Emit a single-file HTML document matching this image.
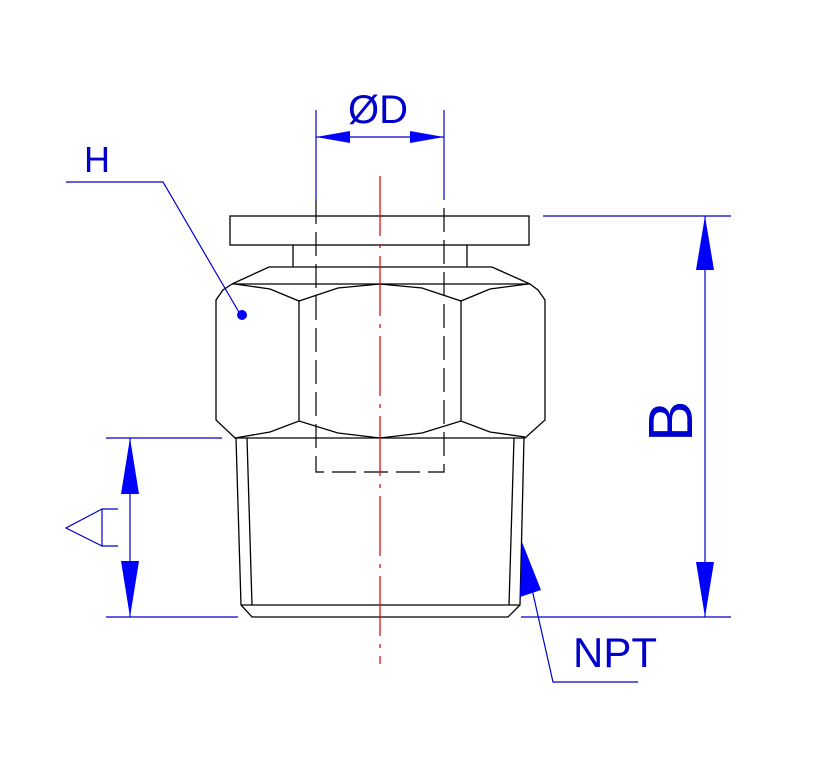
<!DOCTYPE html>
<html><head><style>html,body{margin:0;padding:0;background:#fff}svg{display:block}</style></head><body>
<svg width="837" height="763" viewBox="0 0 837 763" xmlns="http://www.w3.org/2000/svg">
<g fill="none" stroke="#000" stroke-width="1.3">
<rect x="230" y="216" width="299" height="29"/>
<line x1="293" y1="245" x2="293" y2="267"/><line x1="467" y1="245" x2="467" y2="267"/>
<polyline points="232,284 269,267 492,267 530,284"/>
<line x1="232" y1="284" x2="530" y2="284"/>
<polyline points="232,284 223,290 216,300 216,420 235,438 525,438 545,420 545,300 538,290 530,284"/>
<line x1="299" y1="301" x2="299" y2="421"/><line x1="461" y1="301" x2="461" y2="421"/>
<polyline points="235,284 270,289 299,301 338,288 380,284 422,288 461,301 490,289 528,284"/>
<polyline points="235,438 270,432 299,421 338,433 380,438 422,433 461,421 490,432 525,437"/>
<polyline points="236,438 241,605 252,617 508,617 520,605 524,438"/>
<line x1="247" y1="438" x2="252" y2="605"/><line x1="514" y1="438" x2="509" y2="605"/>
<line x1="241" y1="605" x2="520" y2="605"/>
</g>
<g fill="none" stroke="#000" stroke-width="1.2" stroke-dasharray="24,8">
<polyline points="316,200 316,472 444,472 444,200"/>
</g>
<line x1="380" y1="176" x2="380" y2="664" stroke="#d00" stroke-width="1.2" stroke-dasharray="60,8,4,8"/>
<g stroke="#00c" stroke-width="1.2" fill="none">
<line x1="316" y1="110" x2="316" y2="200"/><line x1="444" y1="110" x2="444" y2="200"/>
<line x1="316" y1="137" x2="444" y2="137"/>
<line x1="543" y1="216" x2="731" y2="216"/><line x1="521" y1="617" x2="731" y2="617"/>
<line x1="705" y1="216" x2="705" y2="617"/>
<line x1="106" y1="438" x2="222" y2="438"/><line x1="106" y1="617" x2="238" y2="617"/>
<line x1="130" y1="438" x2="130" y2="617"/>
<polyline points="118,509 102,509 102,546 118,546"/>
<polyline points="102,509 66,528 102,546"/>
<polyline points="66,182 163,182 240,314"/>
<polyline points="522,545 553,682 638,682"/>
</g>
<g fill="#00f">
<polygon points="316,137 350,131 350,143"/><polygon points="444,137 410,131 410,143"/>
<polygon points="705,216 696,270 714,270"/><polygon points="705,617 696,562 714,562"/>
<polygon points="130,438 121,494 139,494"/><polygon points="130,617 121,561 139,561"/>
<circle cx="242" cy="315" r="5"/>
<polygon points="522,542 520,597 541,590"/>
</g>
<g fill="#00c" font-family="Liberation Sans, sans-serif" font-weight="normal">
<text x="348" y="123" font-size="40" transform="scale(1,1)">ØD</text>
<text x="84" y="172" font-size="36">H</text>
<text x="573" y="667" font-size="42">NPT</text>
<text transform="translate(692,442) rotate(-90)" font-size="62">B</text>
</g>
</svg>
</body></html>
